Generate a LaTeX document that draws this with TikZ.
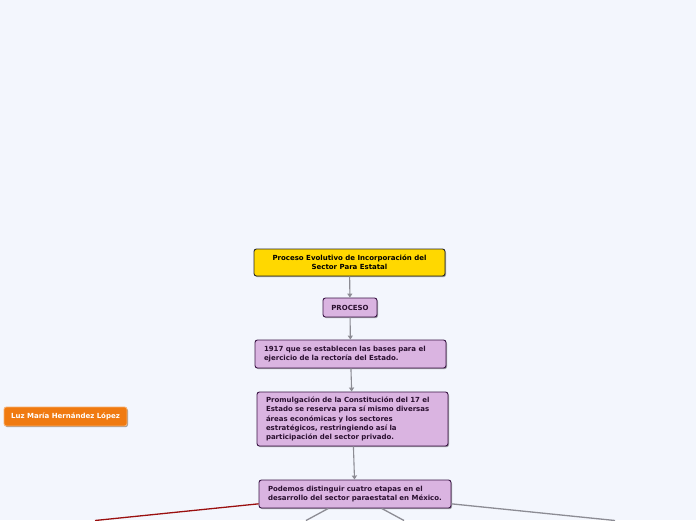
\documentclass[tikz,border=0pt]{standalone}
\usepackage{fontspec}
\setmainfont{DejaVu Sans}
\usetikzlibrary{shadows,arrows.meta}
\definecolor{bgc}{HTML}{F3F6FD}
\definecolor{gold}{HTML}{FFD800}
\definecolor{lila}{HTML}{DAB4E1}
\definecolor{lilaborder}{HTML}{3A1545}
\definecolor{lilatext}{HTML}{2A1030}
\definecolor{orng}{HTML}{F07A10}
\definecolor{orngborder}{HTML}{F6B070}
\definecolor{conn}{HTML}{8C8C94}
\definecolor{darkred}{HTML}{9A0F0F}
\tikzset{
  base/.style={rounded corners=2.5pt, line width=0.9pt, font=\fontsize{7}{9.1}\selectfont\bfseries,
    drop shadow={shadow xshift=1pt, shadow yshift=-1.2pt, opacity=0.35, fill=black}},
  titlebox/.style={base, draw=black!85, fill=gold, text=black, minimum width=191pt, minimum height=27pt, align=center},
  lilabox/.style={base, draw=lilaborder, fill=lila, text=lilatext, inner xsep=9pt, align=left},
  orangebox/.style={base, draw=orngborder, fill=orng, text=white, minimum width=123pt, minimum height=19pt, align=center},
  arr/.style={draw=conn, line width=1.1pt, -{Triangle[length=4pt,width=5pt]}},
  link/.style={draw=conn, line width=1.3pt},
  redlink/.style={draw=darkred, line width=1.3pt}
}
\begin{document}
\begin{tikzpicture}[x=1pt,y=-1pt]
\fill[bgc] (0,0) rectangle (696,520);
\useasboundingbox (0,0) rectangle (696,520);
\clip (0,0) rectangle (696,520);
\coordinate (eL) at (95,520.5);
\coordinate (eR) at (615,520.5);
\coordinate (eBL) at (306,520.5);
\coordinate (eBR) at (404,520.5);
\node[titlebox] (title) at (349.5,262.5) {Proceso Evolutivo de Incorporación del\\Sector Para Estatal};
\node[lilabox, minimum width=54pt, minimum height=19pt, inner xsep=2pt, align=center] (proceso) at (350,307.5) {PROCESO};
\node[lilabox, text width=173pt, minimum height=28pt] (n1917) at (350.5,354) {1917 que se establecen las bases para el\\ejercicio de la rectoría del Estado.};
\node[lilabox, text width=173pt, minimum height=54pt] (prom) at (352.5,419) {Promulgación de la Constitución del 17 el\\Estado se reserva para sí mismo diversas\\áreas económicas y los sectores\\estratégicos, restringiendo así la\\participación del sector privado.};
\node[lilabox, text width=174pt, minimum height=28pt] (pod) at (355,494) {Podemos distinguir cuatro etapas en el\\desarrollo del sector paraestatal en México.};
\node[orangebox] (luz) at (65.5,416.5) {Luz María Hernández López};
\draw[arr] (title) -- (proceso);
\draw[arr] (proceso) -- (n1917);
\draw[arr] (n1917) -- (prom);
\draw[arr] (prom) -- (pod);
\draw[redlink] (pod) -- (eL);
\draw[link] (pod) -- (eR);
\draw[link] (pod) -- (eBL);
\draw[link] (pod) -- (eBR);
\end{tikzpicture}
\end{document}
